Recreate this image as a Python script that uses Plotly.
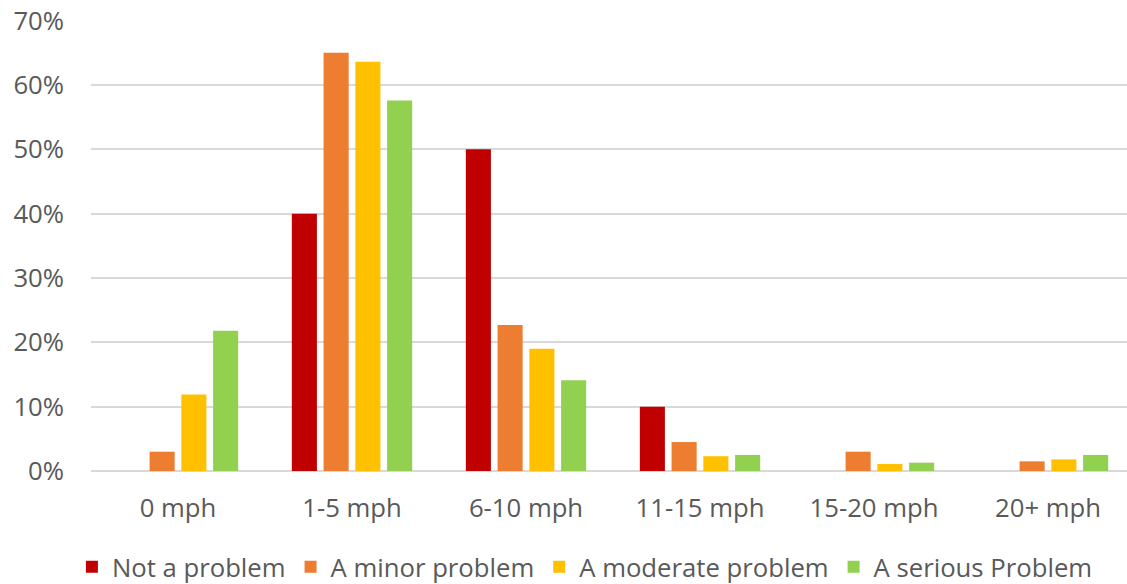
import plotly.graph_objects as go

categories = ["0 mph", "1-5 mph", "6-10 mph", "11-15 mph", "15-20 mph", "20+ mph"]
series_names = ["Not a problem", "A minor problem", "A moderate problem", "A serious Problem"]
not_a_problem = [0.0, 0.40, 0.50, 0.10, 0.0, 0.0]
minor_problem = [0.030, 0.650, 0.227, 0.045, 0.030, 0.015]
moderate_problem = [0.119, 0.636, 0.190, 0.023, 0.011, 0.018]
serious_problem = [0.218, 0.576, 0.141, 0.025, 0.013, 0.025]
colors = ["#C00000", "#ED7D31", "#FFC000", "#92D050"]
tick_vals = [0, 0.1, 0.2, 0.3, 0.4, 0.5, 0.6, 0.7]
tick_text = ["0%", "10%", "20%", "30%", "40%", "50%", "60%", "70%"]

fig = go.Figure()
for name, vals, col in zip(series_names,
                           [not_a_problem, minor_problem, moderate_problem, serious_problem],
                           colors):
    fig.add_trace(go.Bar(x=list(range(len(categories))), y=vals, name=name,
                         marker=dict(color=col, line=dict(width=0))))

font_family = "'Open Sans', sans-serif"
fig.update_layout(
    width=1127, height=584,
    margin=dict(l=91, r=0, t=20, b=113, autoexpand=False),
    paper_bgcolor="white", plot_bgcolor="white",
    barmode="group", bargap=0.27, bargroupgap=0.21,
    font=dict(family=font_family, size=25.7, color="#595959"),
    showlegend=True,
    legend=dict(orientation="h", xref="container", yref="container",
                x=0.519, xanchor="center", y=0.0291, yanchor="middle",
                font=dict(size=25.7, color="#595959"), itemwidth=30, tracegroupgap=0,
                traceorder="normal"),
    xaxis=dict(tickmode="array", tickvals=list(range(len(categories))), ticktext=categories,
               range=[-0.5, 5.454], showgrid=False, zeroline=False, showline=False,
               ticks="", ticklabelstandoff=19, automargin=False),
    yaxis=dict(range=[0, 0.701], tickvals=tick_vals, ticktext=tick_text,
               showgrid=True, gridcolor="#D9D9D9", gridwidth=1.5,
               zeroline=True, zerolinecolor="#D9D9D9", zerolinewidth=1.5,
               showline=False, ticks="", ticklabelstandoff=26, automargin=False,
               ticklabeloverflow="allow"),
)

fig.write_html("out.html", config={"displayModeBar": False},
               post_script="document.body.style.margin='0px';")
